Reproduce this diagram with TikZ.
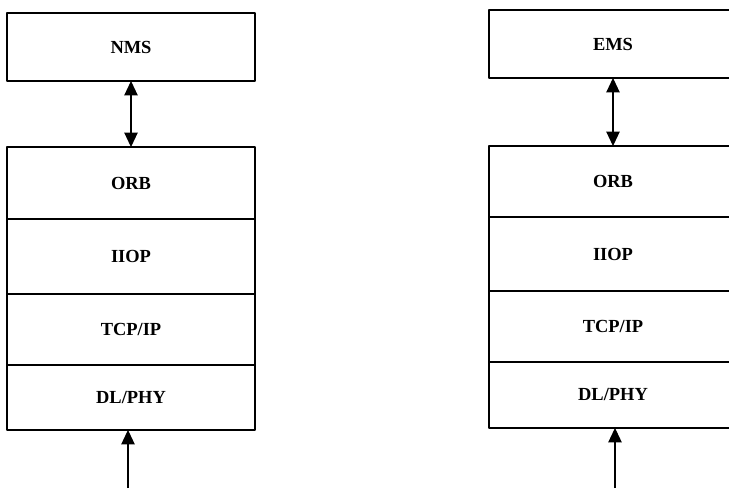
\documentclass[tikz,border=0pt]{standalone}
\usepackage{fontspec}
\setmainfont{Liberation Serif}
\usetikzlibrary{positioning,arrows.meta}
\begin{document}
\begin{tikzpicture}[x=0.02cm,y=-0.02cm,line join=round,>={Triangle[length=2.9mm,width=2.7mm]},
  font=\fontsize{10.5}{12}\selectfont\bfseries,
  layer/.style={draw,line width=0.7pt,minimum width=4.96cm,inner sep=0pt,outer sep=0pt}]
\clip (0,0) rectangle (729,488);
% left side
\node[layer,minimum height=1.36cm,anchor=north] (nms) at (131,13) {NMS};
\node[layer,minimum height=1.44cm,anchor=north] (orbl) at (131,147) {ORB};
\node[layer,minimum height=1.50cm,below=0pt of orbl] (iiopl) {IIOP};
\node[layer,minimum height=1.42cm,below=0pt of iiopl] (tcpl) {TCP/IP};
\node[layer,minimum height=1.30cm,below=0pt of tcpl] (dll) {DL/PHY};
\coordinate (inl) at (128,488);
\draw[<->,line width=0.6pt] (nms) -- (orbl);
\draw[->,line width=0.6pt] (inl) -- (dll.south -| inl);
% right side
\node[layer,minimum height=1.36cm,anchor=north] (ems) at (613,10) {EMS};
\node[layer,minimum height=1.42cm,anchor=north] (orbr) at (613,146) {ORB};
\node[layer,minimum height=1.48cm,below=0pt of orbr] (iiopr) {IIOP};
\node[layer,minimum height=1.42cm,below=0pt of iiopr] (tcpr) {TCP/IP};
\node[layer,minimum height=1.32cm,below=0pt of tcpr] (dlr) {DL/PHY};
\coordinate (inr) at (615,488);
\draw[<->,line width=0.6pt] (ems) -- (orbr);
\draw[->,line width=0.6pt] (inr) -- (dlr.south -| inr);
\end{tikzpicture}
\end{document}
